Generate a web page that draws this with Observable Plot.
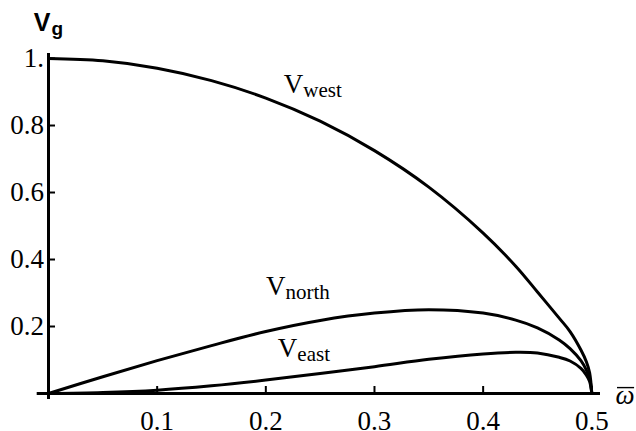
<!DOCTYPE html>
<html><head><meta charset="utf-8">
<script src="https://cdn.jsdelivr.net/npm/d3@7"></script>
<script src="https://cdn.jsdelivr.net/npm/@observablehq/plot@0.6"></script>
<style>body{margin:0;background:#fff} #chart svg{display:block}</style>
</head><body><div id="chart"></div>
<script>
// frequency samples (omega bar) and group velocities
const omega  = [0, 0.05, 0.1, 0.15, 0.2, 0.25, 0.3, 0.35, 0.4, 0.43, 0.45, 0.47, 0.48, 0.49, 0.495, 0.498, 0.5];
const vWest  = [1, 0.993, 0.971, 0.934, 0.882, 0.813, 0.725, 0.616, 0.479, 0.38, 0.303, 0.225, 0.185, 0.13, 0.095, 0.062, 0];
const vNorth = [0, 0.050, 0.098, 0.143, 0.185, 0.218, 0.240, 0.25, 0.240, 0.219, 0.196, 0.160, 0.134, 0.098, 0.070, 0.045, 0];
const vEast  = [0, 0.003, 0.010, 0.023, 0.040, 0.060, 0.080, 0.102, 0.118, 0.123, 0.121, 0.108, 0.097, 0.075, 0.055, 0.036, 0];
const seriesNames = ["west", "north", "east"];
const labelOmega = [0.2345, 0.218, 0.229];
const labelV     = [0.896, 0.293, 0.108];
const xTicks = [0.1, 0.2, 0.3, 0.4, 0.5];
const xTickLabels = ["0.1", "0.2", "0.3", "0.4", "0.5"];
const yTicks = [0.2, 0.4, 0.6, 0.8, 1.0];
const yTickLabels = ["0.2", "0.4", "0.6", "0.8", "1."];
const xRange = [-0.0104, 0.508];
const yRange = [-0.018, 1.015];

const seriesValues = [vWest, vNorth, vEast];
const rows = seriesNames.flatMap((s, i) => omega.map((x, j) => ({series: s, x, y: seriesValues[i][j]})));
const labels = seriesNames.map((s, i) => ({sub: s, x: labelOmega[i], y: labelV[i]}));
const xLabelRows = xTicks.map((t, i) => ({x: t, y: 0, text: xTickLabels[i]}));
const yLabelRows = yTicks.map((t, i) => ({x: 0, y: t, text: yTickLabels[i]}));

const serif = "Liberation Serif, Times New Roman, serif";
const sans = "Liberation Sans, Arial, sans-serif";

const chart = Plot.plot({
  width: 636, height: 431,
  marginLeft: 48, marginRight: 36, marginTop: 53, marginBottom: 38,
  style: {background: "white", color: "black"},
  x: {domain: [0, xRange[1]]},
  y: {domain: [0, yRange[1]]},
  marks: [
    Plot.ruleY([0], {x1: xRange[0], x2: xRange[1], strokeWidth: 3}),
    Plot.ruleX([0], {y1: yRange[0], y2: yRange[1], strokeWidth: 3}),
    Plot.axisX(xTicks, {label: null, tickSize: -7, strokeWidth: 2, fill: "none"}),
    Plot.axisY(yTicks, {label: null, tickSize: -7, strokeWidth: 2, fill: "none"}),
    Plot.text(xLabelRows, {x: "x", y: "y", text: "text", lineAnchor: "bottom", dy: 36.5, fontSize: 27, fontFamily: serif}),
    Plot.text(yLabelRows, {x: "x", y: "y", text: "text", textAnchor: "end", lineAnchor: "middle", dx: -4.5, fontSize: 27, fontFamily: serif}),
    Plot.line(rows, {x: "x", y: "y", z: "series", stroke: "black", strokeWidth: 3, curve: "catmull-rom"}),
    Plot.text(labels, {x: "x", y: "y", text: () => "V", textAnchor: "end", lineAnchor: "bottom", fontSize: 27, fontFamily: serif}),
    Plot.text(labels, {x: "x", y: "y", text: "sub", textAnchor: "start", lineAnchor: "bottom", dy: 3.5, fontSize: 21, fontFamily: serif}),
    Plot.text([{x: 0, y: yRange[1]}], {x: "x", y: "y", text: () => "V", textAnchor: "end", lineAnchor: "bottom", dx: 2, dy: -23, fontSize: 25, fontWeight: "bold", fontFamily: sans}),
    Plot.text([{x: 0, y: yRange[1]}], {x: "x", y: "y", text: () => "g", textAnchor: "start", lineAnchor: "bottom", dx: 3, dy: -19, fontSize: 19, fontWeight: "bold", fontFamily: sans}),
    Plot.text([{x: xRange[1], y: 0}], {x: "x", y: "y", text: () => "\u03C9", textAnchor: "start", lineAnchor: "bottom", dx: 15, dy: 10, fontSize: 27, fontStyle: "italic", fontFamily: serif})
  ]
});
document.getElementById("chart").appendChild(chart);

// overline bar on the omega label, sized from the rendered glyph
const om = Array.from(chart.querySelectorAll("text")).find(t => t.textContent === "\u03C9");
if (om) {
  const b = om.getBBox();
  const bar = document.createElementNS("http://www.w3.org/2000/svg", "line");
  const yb = b.y + b.height * 0.27;
  bar.setAttribute("x1", b.x + 1.5); bar.setAttribute("x2", b.x + b.width - 0.5);
  bar.setAttribute("y1", yb); bar.setAttribute("y2", yb);
  bar.setAttribute("stroke", "black"); bar.setAttribute("stroke-width", "1.4");
  const tr = om.getAttribute("transform");
  if (tr) bar.setAttribute("transform", tr);
  om.parentNode.appendChild(bar);
}
</script>
</body></html>
